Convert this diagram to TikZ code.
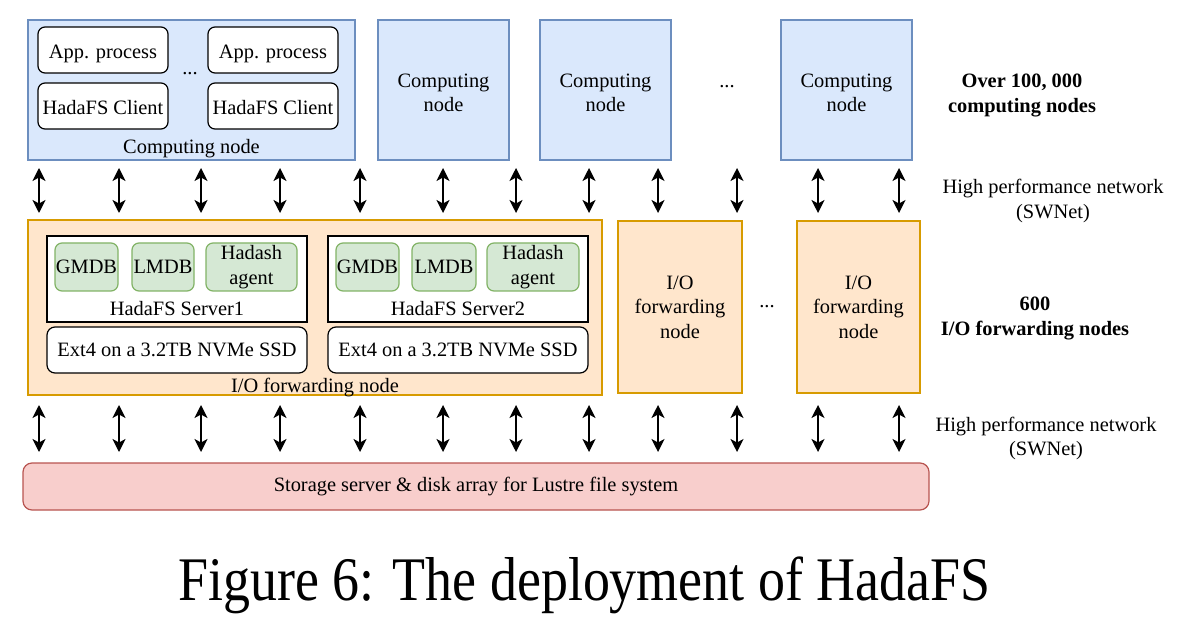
\documentclass[tikz,border=0pt]{standalone}
\usepackage{fontspec}
\usepackage{graphicx}
\setmainfont{Liberation Serif}
\usetikzlibrary{arrows.meta}
\definecolor{compfill}{HTML}{DAE8FC}
\definecolor{compline}{HTML}{6C8EBF}
\definecolor{fwdfill}{HTML}{FFE6CC}
\definecolor{fwdline}{HTML}{D79B00}
\definecolor{dbfill}{HTML}{D5E8D4}
\definecolor{dbline}{HTML}{82B366}
\definecolor{lustrefill}{HTML}{F8CECC}
\definecolor{lustreline}{HTML}{B85450}
\tikzset{
        x=1pt, y=-1pt,
        every node/.style={font=\fontsize{20.4}{24.5}\selectfont, align=center, inner sep=0pt},
        comp/.style={draw=compline, fill=compfill, line width=1.2pt},
        fwd/.style={draw=fwdline, fill=fwdfill, line width=1.2pt},
        proc/.style={draw=black, fill=white, line width=1.2pt, rounded corners=7pt, minimum width=130, minimum height=46, text height=17pt, text depth=0pt},
        server/.style={draw=black, fill=white, line width=1.2pt, minimum width=260, minimum height=86},
        disk/.style={draw=black, fill=white, line width=1.2pt, rounded corners=8pt, minimum width=260, minimum height=46},
        db/.style={draw=dbline, fill=dbfill, line width=1.2pt, rounded corners=7pt, minimum height=48},
        lustre/.style={draw=lustreline, fill=lustrefill, line width=1.2pt, rounded corners=9pt},
        note/.style={font=\fontsize{20.4}{24.5}\selectfont\bfseries},
        link/.style={line width=1.4pt, {Stealth[length=13pt, width=13pt, inset=3.5pt]}-{Stealth[length=13pt, width=13pt, inset=3.5pt]}}
          }
\begin{document}
\begin{tikzpicture}
            \useasboundingbox (0,0) rectangle (1177,617);
            \node[comp, minimum width=327, minimum height=140] (cbig) at (191.5,90) {};
            \node[proc] (app1) at (103,50) {App. process};
            \node[proc] (app2) at (273,50) {App. process};
            \node[proc] (cli1) at (103,106) {HadaFS Client};
            \node[proc] (cli2) at (273,106) {HadaFS Client};
            \node (cdots) at (190,74) {...};
            \node (ctext) at (191.5,148.5) {Computing node};
            \node[comp, minimum width=131, minimum height=140] (comp2) at (443.5,90) {};
            \node[comp, minimum width=131, minimum height=140] (comp3) at (605.5,90) {};
            \node[comp, minimum width=131, minimum height=140] (comp4) at (846.5,90) {};
            \node (comp2t) at (443.5,93) {Computing\\node};
            \node (comp3t) at (605.5,93) {Computing\\node};
            \node (comp4t) at (846.5,93) {Computing\\node};
            \node (cmore) at (727,87) {...};
            \node[note] (cnum) at (1022,95.5) {Over 100, 000\\computing nodes};
            \node (net1) at (1053,201) {High performance network\\(SWNet)};

            \node[fwd, minimum width=574, minimum height=175] (fbig) at (315,307.5) {};
            \node[server] (srv1) at (177,279) {};
            \node[db, minimum width=63] (gm1) at (86.5,267) {GMDB};
            \node[db, minimum width=62] (lm1) at (163,267) {LMDB};
            \node[db, minimum width=91] (ag1) at (251.5,267) {Hadash\\agent};
            \node (s1text) at (177,309) {HadaFS Server1};
            \node[disk] (ext1) at (177,350) {Ext4 on a 3.2TB NVMe SSD};
            \node[server] (srv2) at (458,279) {};
            \node[db, minimum width=63] (gm2) at (367.5,267) {GMDB};
            \node[db, minimum width=64] (lm2) at (444,267) {LMDB};
            \node[db, minimum width=92] (ag2) at (533,267) {Hadash\\agent};
            \node (s2text) at (458,309) {HadaFS Server2};
            \node[disk] (ext2) at (458,350) {Ext4 on a 3.2TB NVMe SSD};
            \node (ftext) at (315,388) {I/O forwarding node};
            \node[fwd, minimum width=124, minimum height=172] (fwd2) at (680,307) {I/O\\forwarding\\node};
            \node[fwd, minimum width=123, minimum height=172] (fwd3) at (858.5,307) {I/O\\forwarding\\node};
            \node (fmore) at (767,307) {...};
            \node[note] (fnum) at (1035,318.5) {600\\I/O forwarding nodes};
            \node (net2) at (1046,438.5) {High performance network\\(SWNet)};

            \node[lustre, minimum width=906, minimum height=47] (lustre) at (476,486.5) {Storage server \& disk array for Lustre file system};

            \foreach \x [count=\i] in {39,119,201,280,360,443,516,589,658,737,818,899} {
                \coordinate (ut\i) at (\x,168);
                \coordinate (ub\i) at (\x,213);
                \coordinate (lt\i) at (\x,405);
                \coordinate (lb\i) at (\x,452);
                \draw[link] (ut\i) -- (ub\i);
                \draw[link] (lt\i) -- (lb\i);
            }

            \node[anchor=base] (caption) at (584.5,600) {\fontsize{62}{70}\selectfont\scalebox{0.87}[1]{Figure 6: The deployment of HadaFS}};
\end{tikzpicture}
\end{document}
